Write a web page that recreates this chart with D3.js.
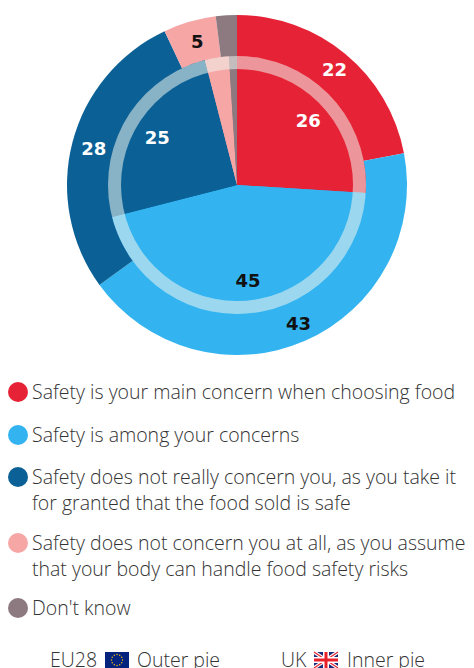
<!DOCTYPE html>
<html><head><meta charset="utf-8">
<script src="https://cdn.jsdelivr.net/npm/d3@7/dist/d3.min.js"></script>
<style>html,body{margin:0;padding:0;background:#fff;overflow:hidden}svg{display:block}
text{font-family:"Open Sans",sans-serif;font-weight:300}</style></head><body>
<svg id="c" width="474" height="668"></svg>
<script>
const categories=["Safety is your main concern when choosing food","Safety is among your concerns","Safety does not really concern you, as you take it\nfor granted that the food sold is safe","Safety does not concern you at all, as you assume\nthat your body can handle food safety risks","Don't know"];
const colors=["#e62336","#33b4f0","#0b6196","#f7a6a6","#8c7a80"];
const outerValues=[22,43,28,5,2];
const innerValues=[26,45,25,3,1];
const labelColors=["#fff","#111","#fff","#111",null];
const legendY=[393,436,478,544,609];
const svg=d3.select("#c");
const cx=237,cy=185;
const g=svg.append("g").attr("transform",`translate(${cx},${cy})`);
const pie=d3.pie().sort(null).value(d=>d);
const outerArc=d3.arc().innerRadius(0).outerRadius(170);
const innerArc=d3.arc().innerRadius(0).outerRadius(129);
g.selectAll(".o").data(pie(outerValues)).join("path").attr("d",outerArc).attr("fill",(d,i)=>colors[i]);
g.selectAll(".i").data(pie(innerValues)).join("path").attr("d",innerArc).attr("fill",(d,i)=>colors[i]);
g.append("path").attr("d",d3.arc().innerRadius(116).outerRadius(129).startAngle(0).endAngle(2*Math.PI)()).attr("fill","#f0f5ee").attr("fill-opacity",.55);
const lab=(vals,r)=>{
 pie(vals).forEach((d,i)=>{ if(i>3||(vals===innerValues&&i===3))return;
  const a=(d.startAngle+d.endAngle)/2;
  g.append("text").attr("x",Math.sin(a)*r+2).attr("y",-Math.cos(a)*r+7).attr("text-anchor","middle")
   .style("font-family","'DejaVu Sans',sans-serif").style("font-weight",700)
   .attr("font-size",18).attr("fill",labelColors[i]).text(vals[i]);
 });};
lab(outerValues,150);
lab(innerValues,95);
const leg=svg.append("g");
categories.forEach((c,i)=>{
 const y=legendY[i];
 leg.append("circle").attr("cx",18).attr("cy",y-1).attr("r",10).attr("fill",colors[i]);
 c.split("\n").forEach((l,j)=>leg.append("text").attr("x",32).attr("y",y+6+j*25.5).attr("font-size",19.5).attr("fill","#333").text(l));
});
const seriesNotes=[["EU28",50,"Outer pie",137],["UK",281,"Inner pie",347]];
seriesNotes.forEach(s=>{
 svg.append("text").attr("x",s[1]).attr("y",667).attr("font-size",19.5).attr("fill","#333").text(s[0]);
 svg.append("text").attr("x",s[3]).attr("y",667).attr("font-size",19.5).attr("fill","#333").text(s[2]);
});
const eu=svg.append("g").attr("transform","translate(105,652)");
eu.append("rect").attr("width",24).attr("height",16).attr("fill","#03237f");
d3.range(12).forEach(i=>eu.append("circle").attr("cx",12+5.5*Math.cos(i*Math.PI/6)).attr("cy",8+5.5*Math.sin(i*Math.PI/6)).attr("r",.7).attr("fill","#fc0"));
const uk=svg.append("g").attr("transform","translate(314,652)");
uk.append("rect").attr("width",24).attr("height",16).attr("fill","#1a2a78");
[[0,0,24,16],[24,0,0,16]].forEach(p=>{
 uk.append("line").attr("x1",p[0]).attr("y1",p[1]).attr("x2",p[2]).attr("y2",p[3]).attr("stroke","#fff").attr("stroke-width",3.4);
 uk.append("line").attr("x1",p[0]).attr("y1",p[1]).attr("x2",p[2]).attr("y2",p[3]).attr("stroke","#e8202c").attr("stroke-width",1.2);
});
uk.append("rect").attr("x",9).attr("width",6).attr("height",16).attr("fill","#fff");
uk.append("rect").attr("y",5).attr("width",24).attr("height",6).attr("fill","#fff");
uk.append("rect").attr("x",10.5).attr("width",3).attr("height",16).attr("fill","#e8202c");
uk.append("rect").attr("y",6.5).attr("width",24).attr("height",3).attr("fill","#e8202c");
</script></body></html>
